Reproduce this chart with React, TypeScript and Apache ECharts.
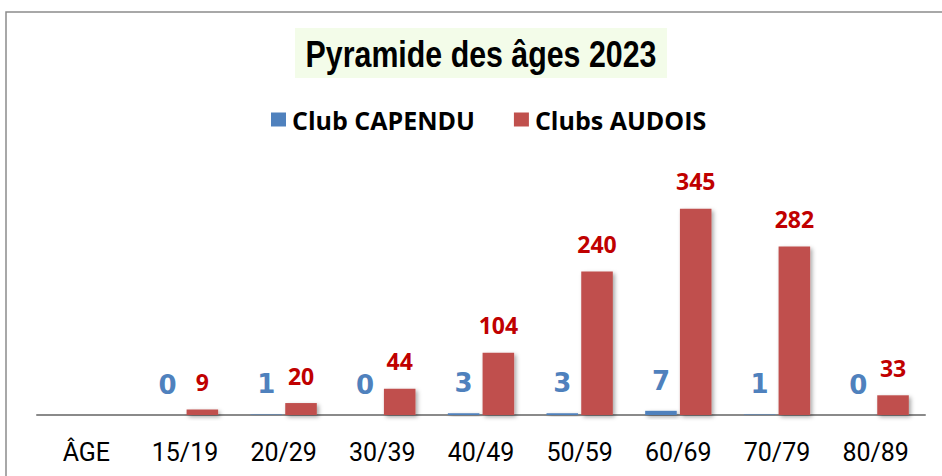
import React, { useEffect, useRef } from "react";
import * as echarts from "echarts";

const categories = ["ÂGE", "15/19", "20/29", "30/39", "40/49", "50/59", "60/69", "70/79", "80/89"];
const capenduValues = [null, 0, 1, 0, 3, 3, 7, 1, 0];
const audoisValues = [null, 9, 20, 44, 104, 240, 345, 282, 33];
const seriesNames = ["Club CAPENDU", "Clubs AUDOIS"];
const titleText = "Pyramide des âges 2023";

export default function App() {
  const ref = useRef<HTMLDivElement>(null);
  useEffect(() => {
    if (!ref.current) return;
    const chart = echarts.init(ref.current, null, { renderer: "svg" });
    const shadow = {
      shadowColor: "rgba(0,0,0,0.35)",
      shadowBlur: 4,
      shadowOffsetX: 2,
      shadowOffsetY: 2,
    };
    chart.setOption({
      animation: false,
      backgroundColor: "#ffffff",
      graphic: [
        {
          type: "rect",
          shape: { x: 6, y: 12, width: 960, height: 500 },
          style: { fill: "none", stroke: "#8c8c8c", lineWidth: 1.5 },
          silent: true,
        },
        {
          type: "rect",
          shape: { x: 295, y: 28, width: 372, height: 50 },
          style: { fill: "#F3FCE9" },
          silent: true,
        },
        {
          type: "text",
          x: 481,
          y: 54,
          scaleX: 0.82,
          style: {
            text: titleText,
            fontFamily: "'Liberation Sans', Arial, sans-serif",
            fontWeight: "bold",
            fontSize: 37,
            fill: "#000",
            align: "center",
            verticalAlign: "middle",
          },
          silent: true,
        },
      ],
      legend: {
        top: 107,
        left: 271,
        padding: 0,
        itemWidth: 15,
        itemHeight: 14,
        itemGap: 39,
        icon: "rect",
        textStyle: {
          fontFamily: "'Open Sans', sans-serif",
          fontWeight: "bold",
          fontSize: 25,
          color: "#000",
          padding: [0, 0, 0, 1],
        },
        data: seriesNames,
      },
      grid: { left: 37, right: 17, top: 176, bottom: 61, containLabel: false },
      xAxis: {
        type: "category",
        data: categories,
        axisLine: { lineStyle: { color: "#8a8a8a", width: 2 } },
        axisTick: { show: false },
        axisLabel: {
          margin: 25,
          fontFamily: "Roboto, sans-serif",
          fontSize: 25,
          color: "#000",
          interval: 0,
        },
      },
      yAxis: {
        type: "value",
        min: 0,
        max: 400,
        show: false,
        splitLine: { show: false },
      },
      series: [
        {
          name: seriesNames[0],
          type: "bar",
          data: capenduValues,
          barWidth: "32%",
          barGap: "10%",
          itemStyle: { color: "#4F81BD", ...shadow },
          label: {
            show: true,
            position: "top",
            distance: 17,
            fontFamily: "'DejaVu Sans', sans-serif",
            fontWeight: "bold",
            fontSize: 26,
            color: "#4F81BD",
          },
        },
        {
          name: seriesNames[1],
          type: "bar",
          data: audoisValues,
          barWidth: "32%",
          barGap: "10%",
          itemStyle: { color: "#C0504D", ...shadow },
          label: {
            show: true,
            position: "top",
            distance: 16,
            fontFamily: "'Open Sans', sans-serif",
            fontWeight: "bold",
            fontSize: 23,
            color: "#C00000",
          },
        },
      ],
    });
    return () => chart.dispose();
  }, []);
  return (
    <div
      ref={ref}
      style={{ width: 942, height: 476, position: "absolute", left: 0, top: 0 }}
    />
  );
}
